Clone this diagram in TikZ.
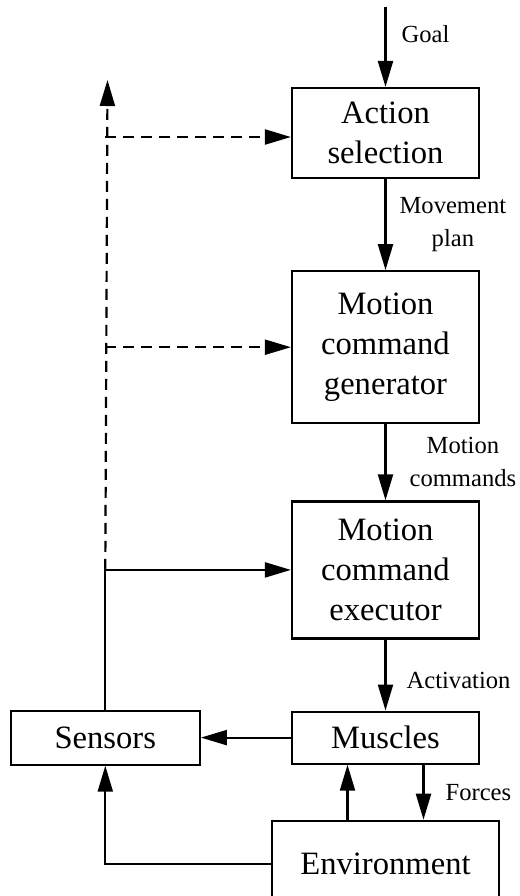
\documentclass[tikz,border=0pt]{standalone}
\usepackage{fontspec}
\setmainfont{Liberation Serif}
\usetikzlibrary{arrows.meta, positioning}

\begin{document}
\begin{tikzpicture}[
    block/.style={draw, rectangle, line width=1.1pt, minimum width=93.5pt, align=center, font=\fontsize{16.3}{20}\selectfont},
    arrow/.style={-{Triangle[length=13pt, width=7.5pt]}, line width=1.1pt},
    note/.style={inner sep=0pt, align=center, font=\fontsize{12.3}{16.5}\selectfont},
    feedback/.style={dash pattern=on 5.5pt off 3.5pt}
]
    \useasboundingbox (0,0) rectangle (260pt,-448pt);

    \node[block, minimum height=45pt] (action) at (192.75pt,-66.5pt) {Action\\selection};
    \node[block, minimum height=76pt, below=45.5pt of action] (generator) {Motion\\command\\generator};
    \node[block, minimum height=68.5pt, below=38pt of generator] (executor) {Motion\\command\\executor};
    \node[block, minimum height=26pt, below=35.5pt of executor] (muscles) {Muscles};
    \node[block, minimum height=27pt, minimum width=94.5pt, left=45pt of muscles] (sensors) {Sensors};
    \node[block, minimum height=43pt, minimum width=113.5pt, below=27.5pt of muscles] (environment) {Environment};

    \coordinate[above=40pt of action] (goal);
    \coordinate (top) at (53.75pt,-40pt);

    % main chain
    \draw[arrow] (goal) -- node[note, pos=0.34, right=7.5pt] {Goal} (action);
    \draw[arrow] (action) -- node[note, right=6.5pt] {Movement\\plan} (generator);
    \draw[arrow] (generator) -- node[note, right=11.5pt] {Motion\\commands} (executor);
    \draw[arrow] (executor) -- node[note, pos=0.58, right=10pt] {Activation} (muscles);
    \draw[arrow] ([xshift=19pt]muscles.south) -- node[note, right=10.5pt] {Forces} ([xshift=19pt]environment.north);
    \draw[arrow] ([xshift=-19pt]environment.north) -- ([xshift=-19pt]muscles.south);
    \draw[arrow] (muscles) -- (sensors);
    \draw[arrow] (environment.west) -| (sensors.south);

    % sensor feedback up the left side
    \draw[line width=1.1pt] (sensors.north) -- (sensors.north |- executor.west);
    \draw[arrow] (sensors.north |- executor.west) -- (executor.west);
    \draw[arrow, feedback] (sensors.north |- executor.west) -- (top);
    \draw[arrow, feedback] (sensors.north |- generator.west) -- (generator.west);
    \draw[arrow, feedback] (sensors.north |- action.west) ++(0,-2pt) -- ([yshift=-2pt]action.west);
\end{tikzpicture}
\end{document}
